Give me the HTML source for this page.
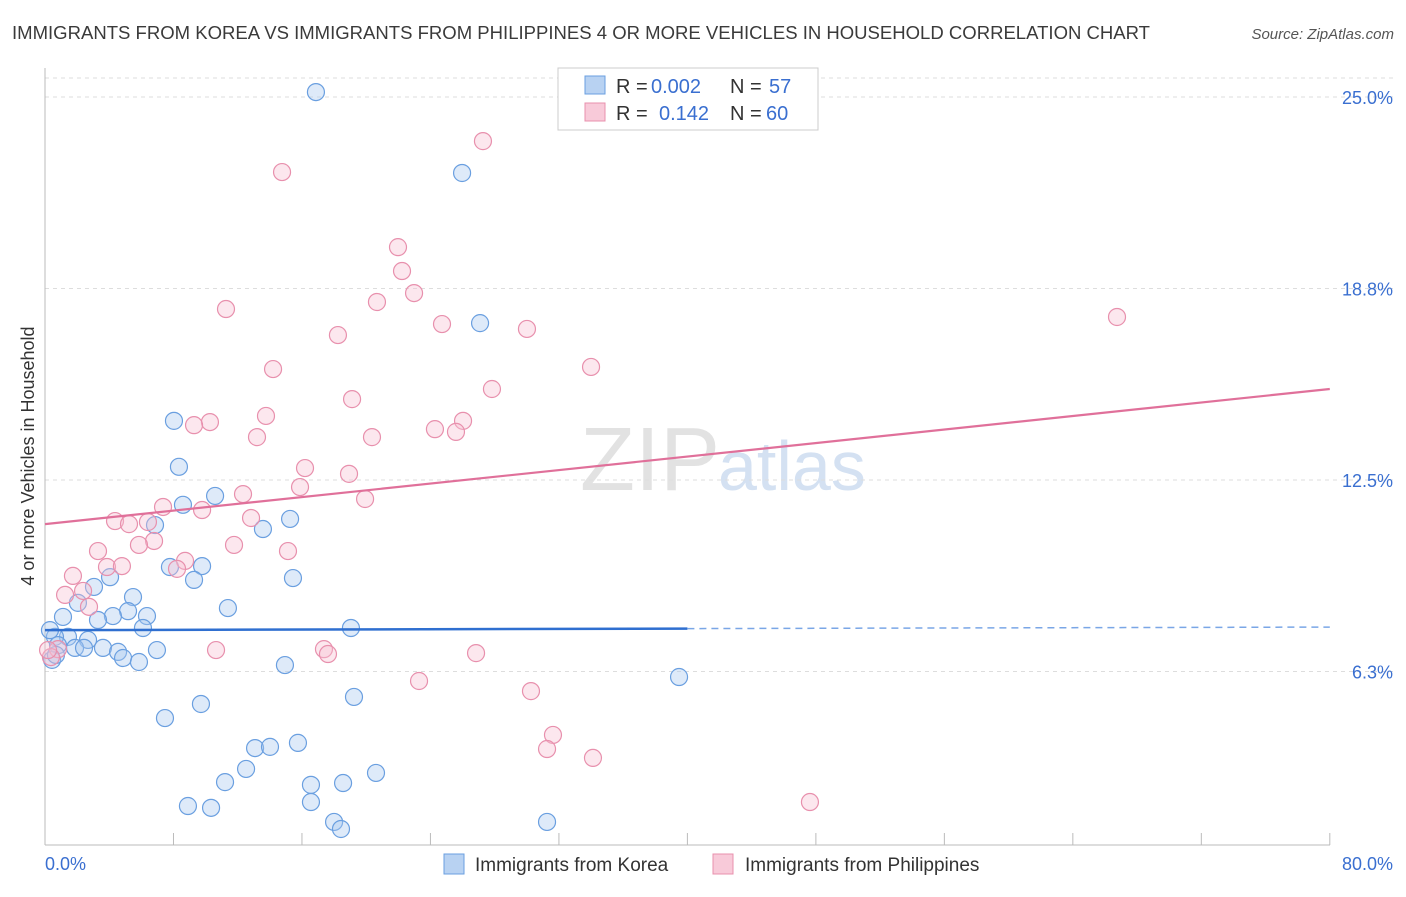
<!DOCTYPE html>
<html><head><meta charset="utf-8">
<style>
body{margin:0;background:#fff;font-family:"Liberation Sans",sans-serif;}
svg text{font-family:"Liberation Sans",sans-serif;}
</style></head>
<body>
<svg id="chart" width="1406" height="892" xmlns="http://www.w3.org/2000/svg">
<text x="12" y="39" font-size="18" fill="#3a3a3a" textLength="1138" lengthAdjust="spacingAndGlyphs">IMMIGRANTS FROM KOREA VS IMMIGRANTS FROM PHILIPPINES 4 OR MORE VEHICLES IN HOUSEHOLD CORRELATION CHART</text>
<text x="1394" y="39" font-size="15" fill="#555" font-style="italic" text-anchor="end">Source: ZipAtlas.com</text>
<text transform="translate(34,456) rotate(-90)" font-size="18" fill="#333" text-anchor="middle">4 or more Vehicles in Household</text>
<text x="720" y="490" font-size="90" fill="#e2e2e2" font-family="Liberation Serif" text-anchor="end">ZIP</text>
<text x="718" y="490" font-size="70" fill="#d4e1f2">atlas</text>
<g id="grid"></g>
<g id="marks"></g>
<g>
<rect x="558" y="68" width="260" height="62" fill="#fff" stroke="#ccc"/>
<rect x="585" y="76" width="20" height="18" fill="#b8d2f2" stroke="#6a9fe0"/>
<rect x="585" y="103" width="20" height="18" fill="#f8cad9" stroke="#e890ad"/>
<text x="616" y="93" font-size="20" fill="#333">R =</text>
<text x="651" y="93" font-size="20" fill="#3a6fd0">0.002</text>
<text x="730" y="93" font-size="20" fill="#333">N =</text>
<text x="769" y="93" font-size="20" fill="#3a6fd0">57</text>
<text x="616" y="120" font-size="20" fill="#333">R =</text>
<text x="659" y="120" font-size="20" fill="#3a6fd0">0.142</text>
<text x="730" y="120" font-size="20" fill="#333">N =</text>
<text x="766" y="120" font-size="20" fill="#3a6fd0">60</text>
</g>
<g>
<rect x="444" y="854" width="20" height="20" fill="#b8d2f2" stroke="#6a9fe0"/>
<text x="475" y="871" font-size="19" fill="#333">Immigrants from Korea</text>
<rect x="713" y="854" width="20" height="20" fill="#f8cad9" stroke="#e890ad"/>
<text x="745" y="871" font-size="19" fill="#333">Immigrants from Philippines</text>
</g>
</svg>
<script>
const yTicks=[6.25,12.5,18.75,25];
const yTickLabels=["6.3%","12.5%","18.8%","25.0%"];
const xTicks=[0,8,16,24,32,40,48,56,64,72,80];
const koreaX=[16.87,25.97,27.09,8.03,8.34,8.59,10.59,6.85,13.57,15.26,4.05,3.05,7.78,9.78,9.28,15.44,5.48,5.17,4.23,6.35,1.12,2.05,11.39,6.10,19.05,3.30,2.68,1.43,0.62,0.31,0.81,1.87,2.43,3.61,4.55,4.86,5.85,6.97,0.44,0.68,14.94,39.48,19.24,7.47,9.71,15.75,13.08,14.01,12.52,20.61,11.21,16.56,18.56,8.90,10.34,16.56,18.00,18.43,31.26];
const koreaY=[25.16,22.52,17.62,14.43,12.93,11.69,11.98,11.03,10.90,11.23,9.33,9.01,9.66,9.69,9.24,9.30,8.68,8.22,8.06,8.06,8.03,8.49,8.32,7.67,7.67,7.93,7.28,7.38,7.38,7.60,7.11,7.02,7.02,7.02,6.89,6.69,6.56,6.95,6.63,6.79,6.46,6.07,5.42,4.73,5.19,3.92,3.75,3.79,3.07,2.94,2.64,2.55,2.61,1.86,1.80,1.99,1.34,1.11,1.34];
const philX=[27.27,14.76,21.98,22.23,11.27,20.67,22.98,18.24,24.72,30.01,34.00,14.20,27.83,19.12,13.76,10.27,9.28,13.20,20.36,24.28,26.03,25.59,16.19,18.93,15.88,12.33,19.93,7.35,9.78,4.36,5.23,6.41,12.83,6.79,5.85,3.30,11.77,15.13,8.72,8.22,3.86,4.79,1.74,2.37,1.25,2.74,10.65,17.37,17.62,26.84,0.81,0.37,0.19,23.29,30.26,31.63,31.26,34.12,47.63,66.75];
const philY=[23.56,22.55,20.10,19.32,18.08,18.31,18.60,17.23,17.59,17.43,16.19,16.12,15.47,15.14,14.59,14.39,14.29,13.90,13.90,14.16,14.43,14.07,12.89,12.70,12.27,12.04,11.88,11.62,11.52,11.16,11.06,11.13,11.26,10.51,10.38,10.18,10.38,10.18,9.86,9.60,9.66,9.69,9.37,8.88,8.75,8.36,6.95,6.98,6.82,6.85,6.98,6.72,6.95,5.94,5.61,4.18,3.72,3.43,1.99,17.82];
const koreaTrend=[7.60,7.70];
const philTrend=[11.06,15.47];
const NS="http://www.w3.org/2000/svg";
const X=v=>45+v*16.06, Y=v=>863-v*30.64;
function mk(t,a,p){const e=document.createElementNS(NS,t);for(const k in a)e.setAttribute(k,a[k]);p.appendChild(e);return e;}
const g=document.getElementById('grid'), m=document.getElementById('marks');
let e=mk('line',{x1:45,x2:1394,y1:78,y2:78,stroke:'#ddd','stroke-dasharray':'4,4'},g);

yTicks.forEach((t,i)=>{
 let l=mk('line',{x1:45,x2:1394,y1:Y(t),y2:Y(t),stroke:'#ddd','stroke-dasharray':'4,4'},g);
 
 
 let tx=mk('text',{x:1393,y:Y(t)+7,'font-size':18,fill:'#3a6fd0','text-anchor':'end'},g);tx.textContent=yTickLabels[i];
 
 
});
e=mk('line',{x1:45,x2:45,y1:68,y2:845,stroke:'#bbb'},g);

e=mk('line',{x1:45,x2:1330,y1:845,y2:845,stroke:'#bbb'},g);

xTicks.forEach(t=>{let l=mk('line',{x1:X(t),x2:X(t),y1:833,y2:845,stroke:'#bbb'},g);
 
 });
e=mk('text',{x:45,y:870,'font-size':18,fill:'#3a6fd0'},g);e.textContent='0.0%';

e=mk('text',{x:1393,y:870,'font-size':18,fill:'#3a6fd0','text-anchor':'end'},g);e.textContent='80.0%';

function pts(xs,ys,fill,stroke,name){xs.forEach((x,i)=>{let c=mk('circle',{cx:X(x),cy:Y(ys[i]),r:8.5,fill:fill,'fill-opacity':0.38,stroke:stroke,'stroke-width':1.2},m);
 
 });}
pts(koreaX,koreaY,'#a8c8f0','#6a9fe0','korea-point');
pts(philX,philY,'#f6c0d2','#e890ad','philippines-point');
const kMid=koreaTrend[0]+(koreaTrend[1]-koreaTrend[0])*(40/80);
e=mk('line',{x1:X(0),y1:Y(koreaTrend[0]),x2:X(40),y2:Y(kMid),stroke:'#2f6fd0','stroke-width':2.5},m);

e=mk('line',{x1:X(40),y1:Y(kMid),x2:X(80),y2:Y(koreaTrend[1]),stroke:'#7aa6e6','stroke-width':1.5,'stroke-dasharray':'7,5'},m);

e=mk('line',{x1:X(0),y1:Y(philTrend[0]),x2:X(80),y2:Y(philTrend[1]),stroke:'#e0709a','stroke-width':2.2},m);

</script>
</body></html>
